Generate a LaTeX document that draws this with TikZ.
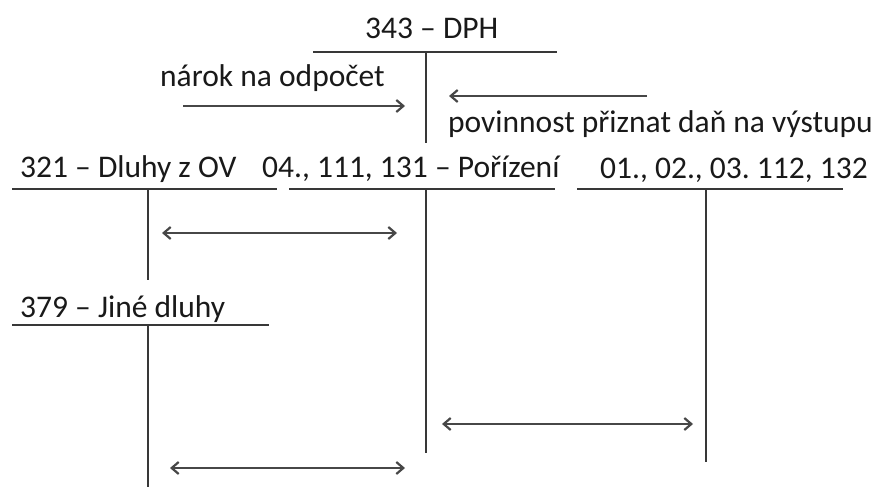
\documentclass[tikz,border=0pt]{standalone}
\usepackage{fontspec}
\setmainfont{Carlito}
\frenchspacing
\usetikzlibrary{positioning}
\usetikzlibrary{arrows.meta}

\tikzset{
  ucet/.style={line width=2pt, draw=black!78},
  popis/.style={anchor=base west, inner sep=0pt, font=\fontsize{31.5}{35}\selectfont, text=black!90},
  sipka/.style={line width=2.2pt, draw=black!72, -{Straight Barb[length=7pt, width=12pt]}},
  obousmer/.style={sipka, {Straight Barb[length=7pt, width=12pt]}-{Straight Barb[length=7pt, width=12pt]}}
}

\begin{document}
\begin{tikzpicture}[x=1pt, y=-1pt]
    \useasboundingbox (0,0) rectangle (878,487);
    % 343 - DPH
    \node[popis] (dph) at (365,39) {343 – DPH};
    \draw[ucet] (313,52) -- (557,52);
    \draw[ucet] (426,52) -- (426,143);
    \node[popis] (narok) at (160,86) {nárok na odpočet};
    \node[popis] (povinnost) at (448,132) {povinnost přiznat daň na výstupu};
    \coordinate (narokA) at (183,106);
    \coordinate (narokB) at (405,106);
    \coordinate (povA) at (647,96);
    \coordinate (povB) at (449,96);
    \draw[sipka] (narokA) -- (narokB);
    \draw[sipka] (povA) -- (povB);

    % uctove radky
    \node[popis] (dluhy) at (20,177) {321 – Dluhy z OV};
    \node[popis] (porizeni) at (262,177) {04., 111, 131 – Pořízení};
    \node[popis] (majetek) at (600,178) {01., 02., 03. 112, 132};
    \draw[ucet] (12,189) -- (277,189);
    \draw[ucet] (148,189) -- (148,280);
    \draw[ucet] (289,189) -- (555,189);
    \draw[ucet] (426,189) -- (426,453);
    \draw[ucet] (577,189) -- (843,189);
    \draw[ucet] (706,189) -- (706,462);

    \node[popis] (jine) at (20,317) {379 – Jiné dluhy};
    \draw[ucet] (12,325) -- (269,325);
    \draw[ucet] (148,325) -- (148,487);

    % obousmerne sipky
    \coordinate (a1) at (162,233);
    \coordinate (a2) at (397,233);
    \coordinate (b1) at (442,424);
    \coordinate (b2) at (693,424);
    \coordinate (c1) at (170,468);
    \coordinate (c2) at (405,468);
    \draw[obousmer] (a1) -- (a2);
    \draw[obousmer] (b1) -- (b2);
    \draw[obousmer] (c1) -- (c2);
\end{tikzpicture}
\end{document}
